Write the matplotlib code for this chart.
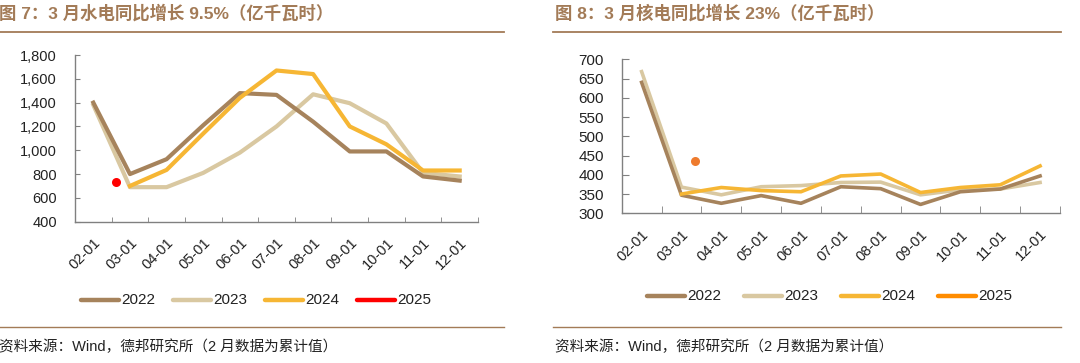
import matplotlib
matplotlib.use("Agg")
import matplotlib.pyplot as plt
from matplotlib.lines import Line2D
import numpy as np

plt.rcParams['font.family'] = ['Liberation Sans', 'Noto Sans CJK SC', 'DejaVu Sans']

months = ["02-01", "03-01", "04-01", "05-01", "06-01", "07-01", "08-01", "09-01", "10-01", "11-01", "12-01"]

hydro_2022 = [1400, 800, 925, 1210, 1480, 1465, 1240, 990, 990, 780, 745]
hydro_2023 = [1380, 690, 690, 810, 980, 1200, 1470, 1395, 1225, 810, 780]
hydro_2024 = [np.nan, 700, 835, 1140, 1440, 1670, 1640, 1200, 1050, 830, 830]
hydro_2025 = [735]

nuclear_2022 = [640, 347, 326, 346, 326, 369, 364, 323, 356, 363, 397]
nuclear_2023 = [668, 368, 348, 369, 372, 380, 381, 348, 361, 363, 380]
nuclear_2024 = [np.nan, 350, 367, 359, 356, 397, 402, 354, 367, 374, 423]
nuclear_2025 = [437]

years = ["2022", "2023", "2024", "2025"]
c22, c23, c24 = "#A6835C", "#D9C8A1", "#F6B634"
title_col = "#A37B57"

W, H = 1080, 363
fig = plt.figure(figsize=(W / 100, H / 100), dpi=100)


def fx(px):
    return px / W


def fy(py):
    return 1 - py / H


def make_axes(rect, xlim, ylim, yticks, ylabels, tick_len, lw, s22, s23, s24, s25, c25, dot_off, yfs):
    ax = fig.add_axes(rect)
    x = np.arange(len(months))
    ax.plot(x, s22, color=c22, lw=lw, zorder=3)
    ax.plot(x, s23, color=c23, lw=lw, zorder=2)
    ax.plot(x, s24, color=c24, lw=lw, zorder=4)
    ax.plot([x[1] + dot_off], s25, 'o', color=c25, ms=6.5, mec='none', zorder=5)
    ax.set_xlim(*xlim)
    ax.set_ylim(*ylim)
    ax.set_yticks(yticks)
    ax.set_yticklabels(ylabels, fontsize=yfs, color="#222222")
    ax.set_xticks(x)
    ax.set_xticklabels(months, rotation=45, ha='right', va='top', rotation_mode='anchor',
                       fontsize=10.5, color="#222222")
    ax.set_xticks(np.arange(0.5, len(months) - 0.4, 1.0), minor=True)
    ax.tick_params(axis='x', which='major', length=0, pad=10)
    ax.tick_params(axis='x', which='minor', length=tick_len, direction='in', color="#808080")
    ax.tick_params(axis='y', length=tick_len, direction='in', color="#808080", pad=13)
    for s in ['top', 'right']:
        ax.spines[s].set_visible(False)
    for s in ['left', 'bottom']:
        ax.spines[s].set_color("#808080")
        ax.spines[s].set_linewidth(1.0)
    ax.patch.set_alpha(0)
    return ax


hydro_ticks = [400, 600, 800, 1000, 1200, 1400, 1600, 1800]
nuclear_ticks = [300, 350, 400, 450, 500, 550, 600, 650, 700]

# Left chart
axL = make_axes([fx(75), fy(221.7), fx(478 - 75), (221.7 - 55) / H], (-0.5, 10.5), (400, 1800),
                hydro_ticks, [f"{v:,}" for v in hydro_ticks], 3.5, 3.0,
                hydro_2022, hydro_2023, hydro_2024, hydro_2025, "#FF0000", -0.38, 10.5)

# Right chart
axR = make_axes([fx(621.7), fy(213.3), fx(1060 - 621.7), (213.3 - 59.3) / H], (-0.5, 10.24), (300, 700),
                nuclear_ticks, [str(v) for v in nuclear_ticks], 5, 2.6,
                nuclear_2022, nuclear_2023, nuclear_2024, nuclear_2025, "#EE7B2E", 0.34, 11)


# Legends
def legend(x0, y, cols, spacing):
    for i, (yr, c) in enumerate(zip(years, cols)):
        xs = x0 + i * spacing
        fig.add_artist(Line2D([fx(xs), fx(xs + 38)], [fy(y), fy(y)], color=c, lw=3.2,
                              solid_capstyle='round', transform=fig.transFigure))
        fig.text(fx(xs + 40), fy(y), yr, fontsize=11, color="#222222", va='center', ha='left')


legend(81, 299.5, [c22, c23, c24, "#FF0000"], 92)
legend(647, 295.5, [c22, c23, c24, "#FF8C00"], 97)

# Titles
fig.text(fx(-1), fy(13), "图 7：3 月水电同比增长 9.5%（亿千瓦时）", fontsize=12.5, fontweight='bold',
         color=title_col, va='center', ha='left')
fig.text(fx(555), fy(13), "图 8：3 月核电同比增长 23%（亿千瓦时）", fontsize=12.5, fontweight='bold',
         color=title_col, va='center', ha='left')

# Separator lines
for (xa, xb) in [(0, 504), (553, 1061)]:
    fig.add_artist(Line2D([fx(xa), fx(xb)], [fy(31.7), fy(31.7)], color=title_col, lw=1.3,
                          transform=fig.transFigure))
    fig.add_artist(Line2D([fx(xa), fx(xb)], [fy(327.3), fy(327.3)], color=title_col, lw=1.0,
                          transform=fig.transFigure))

# Sources
src = "资料来源：Wind，德邦研究所（2 月数据为累计值）"
fig.text(fx(-1), fy(346.7), src, fontsize=10.5, color="#222222", va='center', ha='left')
fig.text(fx(555), fy(346.7), src, fontsize=10.5, color="#222222", va='center', ha='left')

fig.savefig("out.png", dpi=100)
